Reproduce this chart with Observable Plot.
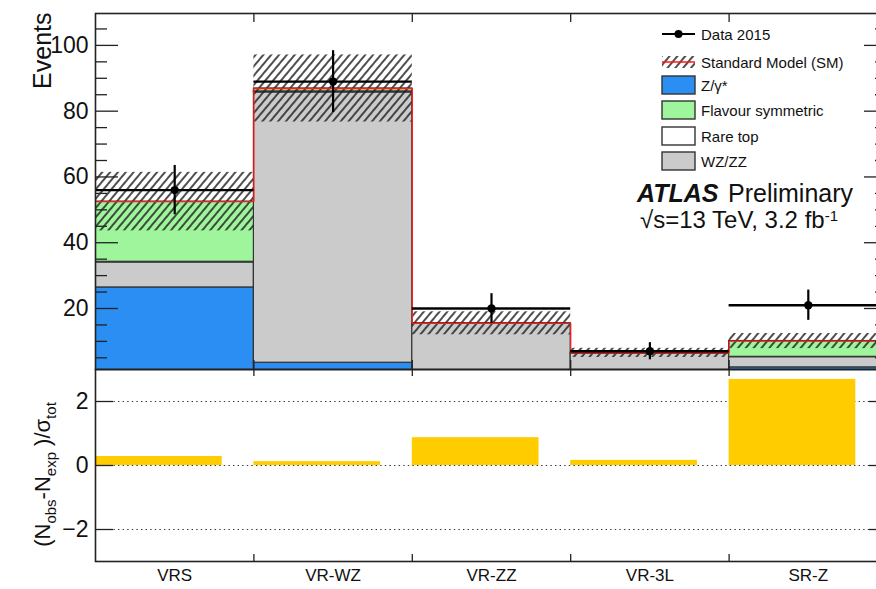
<!DOCTYPE html>
<html><head><meta charset="utf-8">
<script src="https://cdn.jsdelivr.net/npm/d3@7"></script>
<script src="https://cdn.jsdelivr.net/npm/@observablehq/plot@0.6"></script>
<style>
html,body{margin:0;padding:0;background:#fff;overflow:hidden;}
#wrap{position:relative;width:876px;height:589px;overflow:hidden;background:#fff;}
#wrap svg{position:absolute;left:0;max-width:none;}
</style></head><body><div id="wrap"></div>
<script>
// ---- data ----
const regions = ["VRS", "VR-WZ", "VR-ZZ", "VR-3L", "SR-Z"];
const zGamma = [26.4, 3.5, 0, 0, 2.1];
const wzzz = [7.6, 82.2, 15.4, 6.3, 3.1];
const rareTop = [0.2, 0.3, 0.1, 0.2, 0.1];
const flavourSym = [18.3, 0.9, 0, 0, 4.8];
const smErr = [8.9, 10.2, 3.5, 1.4, 2.3];
const dataObs = [56, 89, 20, 7, 21];
const dataErr = [7.5, 9.4, 4.5, 2.6, 4.6];
const significance = [0.28, 0.12, 0.87, 0.16, 2.69];
const yTicksMajor = [20, 40, 60, 80, 100];
const yTicksMinor = [5, 10, 15, 25, 30, 35, 45, 50, 55, 65, 70, 75, 85, 90, 95, 105];
const ratioTicks = [-2, 0, 2];
const binEdges = [1, 2, 3, 4];
const legendLabels = ["Data 2015", "Standard Model (SM)", "Z/γ*", "Flavour symmetric", "Rare top", "WZ/ZZ"];

const FONT = "'Liberation Sans', Arial, Helvetica, sans-serif";
const C = {z: "#2b8ef3", fs: "#9ff59c", rare: "#ffffff", wz: "#cbcbcb", ratio: "#ffcc00"};

// stack order bottom -> top
const components = [
  {values: zGamma, fill: C.z},
  {values: wzzz, fill: C.wz},
  {values: rareTop, fill: C.rare},
  {values: flavourSym, fill: C.fs}
];
const stackRows = [];
const totals = regions.map(() => 0);
for (const comp of components) {
  comp.values.forEach((v, i) => {
    if (v > 0) stackRows.push({x1: i, x2: i + 1, y1: totals[i], y2: totals[i] + v, fill: comp.fill});
    totals[i] += v;
  });
}
const binRows = regions.map((r, i) => ({
  region: r, x1: i, x2: i + 1, xc: i + 0.5, bar2: i + 0.8,
  total: totals[i], lo: totals[i] - smErr[i], hi: totals[i] + smErr[i],
  data: dataObs[i], dlo: dataObs[i] - dataErr[i], dhi: dataObs[i] + dataErr[i],
  sig: significance[i]
}));
const stepPts = [];
binRows.forEach(b => { stepPts.push({x: b.x1, y: b.total}); stepPts.push({x: b.x2, y: b.total}); });

// ---- layout ----
const W = 887, L = 95, frameW = W - L;
const topH = 372, topMT = 13, topMB = 3, topFH = topH - topMT - topMB;
const botTop = 366, botH = 589 - botTop, botMT = 3, botMB = 28, botFH = botH - botMT - botMB;
const AX = "#222";

const topSvg = Plot.plot({
  width: W, height: topH, marginLeft: L, marginRight: 0, marginTop: topMT, marginBottom: topMB,
  x: {domain: [0, 5], axis: null},
  y: {domain: [1.45, 109.7], axis: null},
  color: {type: "identity"},
  style: {fontFamily: FONT, background: "white", overflow: "visible", color: "#000"},
  marks: [
    Plot.rect(stackRows, {x1: "x1", x2: "x2", y1: "y1", y2: "y2", fill: "fill", stroke: "#333", strokeWidth: 1.2, clip: true}),
    Plot.rect(binRows, {x1: "x1", x2: "x2", y1: "lo", y2: "hi", fill: "url(#smHatch)", clip: true}),
    Plot.line(stepPts, {x: "x", y: "y", stroke: "#ff1a1a", strokeWidth: 1.3, clip: true}),
    Plot.ruleY(binRows, {y: "data", x1: "x1", x2: "x2", stroke: "#000", strokeWidth: 2.4}),
    Plot.ruleX(binRows, {x: "xc", y1: "dlo", y2: "dhi", stroke: "#000", strokeWidth: 2.2}),
    Plot.dot(binRows, {x: "xc", y: "data", r: 4.2, fill: "#000"}),
    Plot.tickY(yTicksMajor, {y: d => d, insetRight: frameW - 23, stroke: AX, strokeWidth: 1.3}),
    Plot.tickY(yTicksMajor, {y: d => d, insetLeft: frameW - 23, stroke: AX, strokeWidth: 1.3}),
    Plot.tickY(yTicksMinor, {y: d => d, insetRight: frameW - 12, stroke: AX, strokeWidth: 1.3}),
    Plot.tickY(yTicksMinor, {y: d => d, insetLeft: frameW - 12, stroke: AX, strokeWidth: 1.3}),
    Plot.tickX(binEdges, {x: d => d, insetTop: topFH - 9, stroke: AX, strokeWidth: 1.3}),
    Plot.tickX(binEdges, {x: d => d, insetBottom: topFH - 9, stroke: AX, strokeWidth: 1.3}),
    Plot.frame({stroke: AX, strokeWidth: 1.6}),
    Plot.text(yTicksMajor, {y: d => d, text: d => String(d), frameAnchor: "left", dx: -7, textAnchor: "end", fontSize: 23, fill: "#111"}),
    Plot.text(["Events"], {text: d => d, frameAnchor: "top-left", rotate: -90, textAnchor: "end", dx: -62, dy: -1, fontSize: 25, fill: "#111"})
  ]
});
topSvg.style.top = "0px";

const botSvg = Plot.plot({
  width: W, height: botH, marginLeft: L, marginRight: 0, marginTop: botMT, marginBottom: botMB,
  x: {domain: [0, 5], axis: null},
  y: {domain: [-3, 3], axis: null},
  style: {fontFamily: FONT, background: "transparent", overflow: "visible", color: "#000"},
  marks: [
    Plot.ruleY(ratioTicks, {y: d => d, stroke: "#333", strokeWidth: 1.2, strokeDasharray: "1.4,3.2"}),
    Plot.rect(binRows, {x1: "x1", x2: "bar2", y1: 0, y2: "sig", fill: C.ratio}),
    Plot.tickY(ratioTicks, {y: d => d, insetRight: frameW - 18, stroke: AX, strokeWidth: 1.3}),
    Plot.tickY(ratioTicks, {y: d => d, insetLeft: frameW - 18, stroke: AX, strokeWidth: 1.3}),
    Plot.tickX(binEdges, {x: d => d, insetTop: botFH - 7, stroke: AX, strokeWidth: 1.3}),
    Plot.tickX(binEdges, {x: d => d, insetBottom: botFH - 7, stroke: AX, strokeWidth: 1.3}),
    Plot.frame({stroke: AX, strokeWidth: 1.6}),
    Plot.text(ratioTicks, {y: d => d, text: d => d3.format("")(d), frameAnchor: "left", dx: -7, textAnchor: "end", fontSize: 23, fill: "#111"}),
    Plot.text(binRows, {x: "xc", text: "region", frameAnchor: "bottom", dy: 19, fontSize: 17, fill: "#111"})
  ]
});
botSvg.style.top = botTop + "px";

const wrap = document.getElementById("wrap");
wrap.appendChild(topSvg);
wrap.appendChild(botSvg);

// ---- hatch pattern ----
const st = d3.select(topSvg);
const defs = st.insert("defs", ":first-child");
defs.append("pattern").attr("id", "smHatch").attr("patternUnits", "userSpaceOnUse")
  .attr("width", 6).attr("height", 6).attr("patternTransform", "rotate(40)")
  .append("line").attr("x1", 3).attr("y1", -1).attr("x2", 3).attr("y2", 7)
  .attr("stroke", "#222").attr("stroke-width", 1.6);

// ---- legend ----
const lg = st.append("g").attr("font-family", FONT).attr("font-size", 15).attr("fill", "#111").attr("text-anchor", "start");
const rowY = [34, 62, 85, 110, 136, 161];
const sx0 = 662, sx1 = 695, tx = 701;
lg.append("line").attr("x1", sx0).attr("x2", sx1).attr("y1", rowY[0]).attr("y2", rowY[0]).attr("stroke", "#000").attr("stroke-width", 2.2);
lg.append("circle").attr("cx", (sx0 + sx1) / 2).attr("cy", rowY[0]).attr("r", 4).attr("fill", "#000");
lg.append("rect").attr("x", sx0).attr("y", rowY[1] - 6).attr("width", sx1 - sx0).attr("height", 12).attr("fill", "url(#smHatch)");
lg.append("line").attr("x1", sx0).attr("x2", sx1).attr("y1", rowY[1]).attr("y2", rowY[1]).attr("stroke", "#ff1a1a").attr("stroke-width", 1.4);
[C.z, C.fs, C.rare, C.wz].forEach((c, k) => {
  lg.append("rect").attr("x", sx0).attr("y", rowY[k + 2] - 9).attr("width", sx1 - sx0).attr("height", 18)
    .attr("fill", c).attr("stroke", "#333").attr("stroke-width", 1.4);
});
legendLabels.forEach((t, k) => {
  lg.append("text").attr("x", tx).attr("y", rowY[k] + 5.5).text(t);
});

// ---- ATLAS label ----
const at = st.append("g").attr("font-family", FONT).attr("fill", "#111").attr("text-anchor", "start");
at.append("text").attr("x", 637).attr("y", 202).attr("font-size", 25).attr("font-weight", "bold").attr("font-style", "italic").text("ATLAS");
at.append("text").attr("x", 728).attr("y", 202).attr("font-size", 25).text("Preliminary");
const lum = at.append("text").attr("x", 640).attr("y", 228).attr("font-size", 24);
lum.append("tspan").text("√s=13 TeV, 3.2 fb");
lum.append("tspan").attr("font-size", 15).attr("dy", -7).text("-1");

// ---- ratio axis title ----
const sb = d3.select(botSvg);
const rt = sb.append("text").attr("font-family", FONT).attr("font-size", 22).attr("fill", "#111")
  .attr("text-anchor", "middle").attr("transform", `translate(50,${474.5 - botTop}) rotate(-90)`);
rt.append("tspan").text("(N");
rt.append("tspan").attr("font-size", 15).attr("dy", 6).text("obs");
rt.append("tspan").attr("dy", -6).text("-N");
rt.append("tspan").attr("font-size", 15).attr("dy", 6).text("exp");
rt.append("tspan").attr("dy", -6).text(" )/σ");
rt.append("tspan").attr("font-size", 15).attr("dy", 6).text("tot");
</script></body></html>
